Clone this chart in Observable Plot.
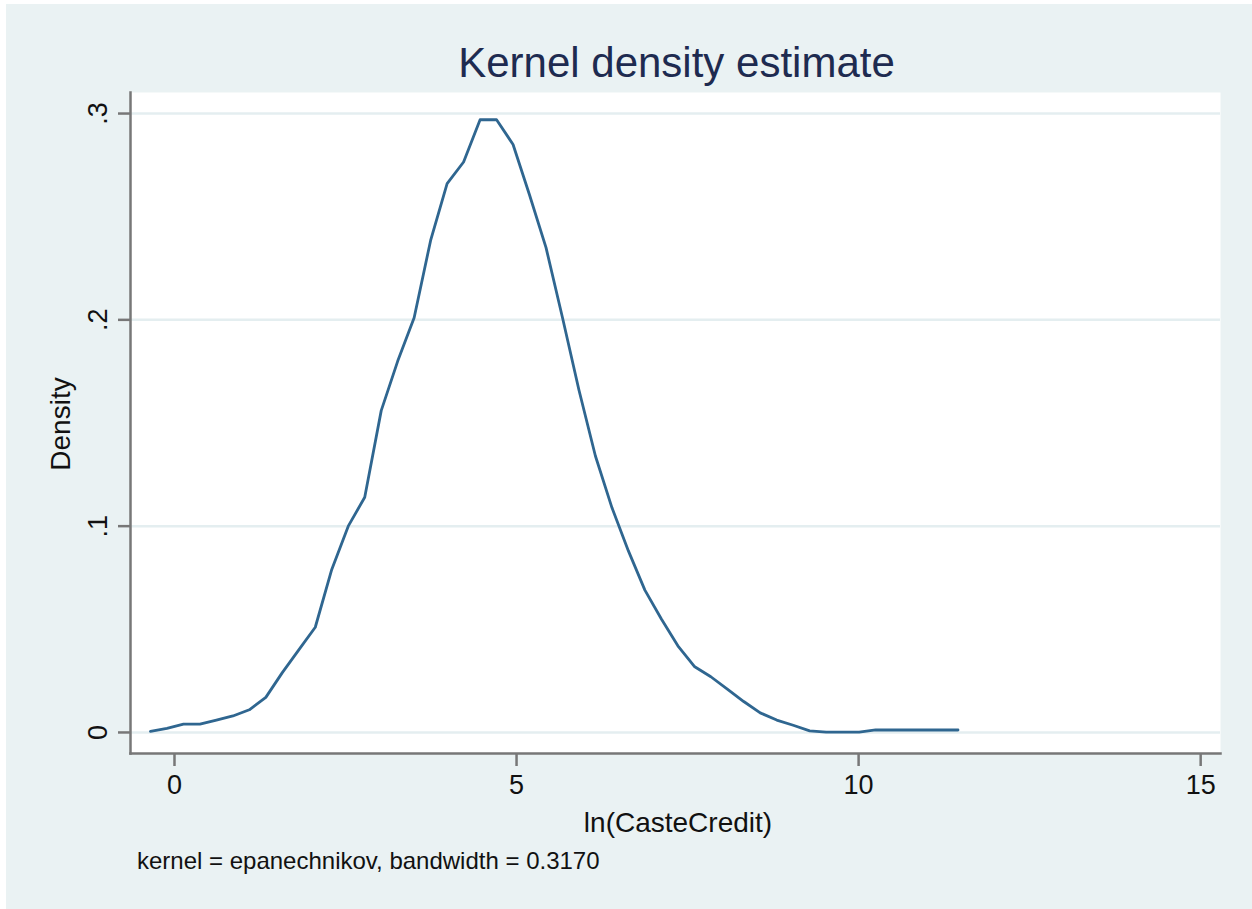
<!DOCTYPE html>
<html>
<head>
<meta charset="utf-8">
<script src="https://cdn.jsdelivr.net/npm/d3@7"></script>
<script src="https://cdn.jsdelivr.net/npm/@observablehq/plot@0.6"></script>
<style>
  html, body { margin: 0; padding: 0; background: #ffffff; }
  #wrap { position: absolute; left: 6px; top: 4px; width: 1246px; height: 905px; }
</style>
</head>
<body>
<div id="wrap"></div>
<script>
// Kernel density evaluation points (ln(CasteCredit)) and density values
const gridX = [-0.351, -0.110, 0.131, 0.372, 0.613, 0.854, 1.094, 1.335, 1.576, 1.817,
  2.058, 2.299, 2.540, 2.781, 3.022, 3.263, 3.503, 3.744, 3.985, 4.226,
  4.467, 4.708, 4.949, 5.190, 5.431, 5.672, 5.912, 6.153, 6.394, 6.635,
  6.876, 7.117, 7.358, 7.599, 7.840, 8.081, 8.321, 8.562, 8.803, 9.044,
  9.285, 9.526, 9.767, 10.008, 10.249, 10.490, 10.730, 10.971, 11.212, 11.453];
const density = [0.0005, 0.002, 0.004, 0.004, 0.006, 0.008, 0.011, 0.017, 0.029, 0.040,
  0.051, 0.079, 0.100, 0.114, 0.156, 0.180, 0.201, 0.2385, 0.266, 0.2765,
  0.297, 0.297, 0.285, 0.2605, 0.235, 0.201, 0.166, 0.134, 0.109, 0.088,
  0.069, 0.055, 0.042, 0.032, 0.027, 0.021, 0.015, 0.0095, 0.006, 0.0035,
  0.0008, 0.0002, 0.0002, 0.0002, 0.0012, 0.0012, 0.0012, 0.0012, 0.0012, 0.0012];
const xTicks = [0, 5, 10, 15];
const yTicks = [0, 0.1, 0.2, 0.3];
const yTickLabels = ["0", ".1", ".2", ".3"];
const titleText = "Kernel density estimate";
const xLabel = "ln(CasteCredit)";
const yLabel = "Density";
const noteText = "kernel = epanechnikov, bandwidth = 0.3170";

const data = gridX.map((x, i) => ({x, y: density[i]}));

const W = 1246, H = 905;
const font = "'Liberation Sans', Arial, Helvetica, sans-serif";

const chart = Plot.plot({
  width: W,
  height: H,
  marginLeft: 124,
  marginRight: 32,
  marginTop: 88,
  marginBottom: 156,
  style: {background: "#eaf2f3", fontFamily: font, color: "#111"},
  x: {domain: [-0.643, 15.29]},
  y: {domain: [-0.0102, 0.3102]},
  marks: [
    Plot.frame({fill: "white", stroke: "none"}),
    Plot.gridY(yTicks, {stroke: "#e4eef0", strokeWidth: 2.5, strokeOpacity: 1}),
    Plot.line(data, {x: "x", y: "y", stroke: "#2f6690", strokeWidth: 2.8, strokeLinejoin: "round"}),
    Plot.frame({anchor: "left", stroke: "#777", strokeWidth: 2.5}),
    Plot.frame({anchor: "bottom", stroke: "#777", strokeWidth: 2.5}),
    Plot.axisX(xTicks, {tickSize: 13, tickPadding: 8, fontSize: 27, stroke: "#777", strokeWidth: 2.5, fill: "#111", label: null, tickFormat: d => String(d)}),
    Plot.axisY(yTicks, {tickSize: 12, tickPadding: 12, fontSize: 27, tickRotate: -90, stroke: "#777", strokeWidth: 2.5, fill: "#111", label: null, tickFormat: (d, i) => yTickLabels[yTicks.indexOf(d)]})
  ]
});

const svg = d3.select(chart);
svg.append("text")
  .attr("x", 670.5).attr("y", 73)
  .attr("text-anchor", "middle")
  .attr("font-family", font).attr("font-size", 42)
  .attr("fill", "#1e2b50")
  .text(titleText);
svg.append("text")
  .attr("x", 672).attr("y", 828)
  .attr("text-anchor", "middle")
  .attr("font-family", font).attr("font-size", 28)
  .attr("fill", "#111")
  .text(xLabel);
svg.append("text")
  .attr("transform", "translate(64,420) rotate(-90)")
  .attr("text-anchor", "middle")
  .attr("font-family", font).attr("font-size", 28)
  .attr("fill", "#111")
  .text(yLabel);
svg.append("text")
  .attr("x", 131).attr("y", 865)
  .attr("text-anchor", "start")
  .attr("font-family", font).attr("font-size", 24)
  .attr("fill", "#111")
  .text(noteText);

document.getElementById("wrap").appendChild(chart);
</script>
</body>
</html>
